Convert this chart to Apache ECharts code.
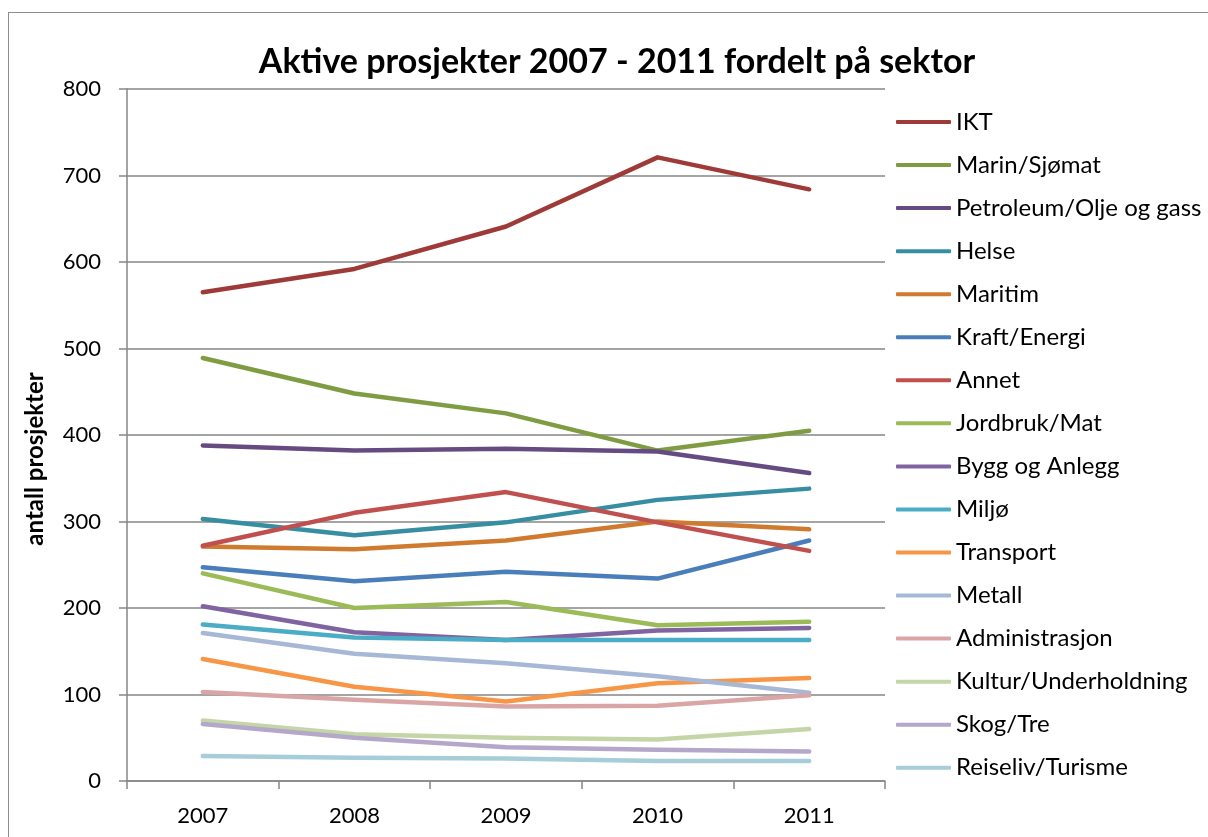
<!DOCTYPE html>
<html>
<head>
<meta charset="utf-8">
<script src="https://cdn.jsdelivr.net/npm/echarts@6/dist/echarts.min.js"></script>
<style>
  html, body { margin: 0; padding: 0; background: #fff; }
  #frame { position: absolute; left: 8px; top: 12px; width: 1300px; height: 900px; border: 1.5px solid #8c8c8c; box-sizing: border-box; }
  #myChart { position: absolute; left: 0; top: 0; width: 1208px; height: 837px; }
</style>
</head>
<body>
<div id="frame"></div>
<div id="myChart"></div>
<script>
// år
var years = ['2007', '2008', '2009', '2010', '2011'];

// sektorer og verdier
var sectors = ['IKT', 'Marin/Sjømat', 'Petroleum/Olje og gass', 'Helse', 'Maritim', 'Kraft/Energi', 'Annet',
  'Jordbruk/Mat', 'Bygg og Anlegg', 'Miljø', 'Transport', 'Metall', 'Administrasjon',
  'Kultur/Underholdning', 'Skog/Tre', 'Reiseliv/Turisme'];

var ikt = [565, 592, 641, 721, 684];
var marin = [489, 448, 425, 382, 405];
var petroleum = [388, 382, 384, 381, 356];
var helse = [303, 284, 299, 325, 338];
var maritim = [271, 268, 278, 300, 291];
var kraft = [247, 231, 242, 234, 278];
var annet = [272, 310, 334, 299, 266];
var jordbruk = [240, 200, 207, 180, 184];
var bygg = [202, 172, 163, 174, 177];
var miljo = [181, 166, 163, 163, 163];
var transport = [141, 109, 92, 113, 119];
var metall = [171, 147, 136, 121, 102];
var administrasjon = [103, 94, 86, 87, 99];
var kultur = [70, 54, 50, 48, 60];
var skog = [66, 50, 39, 36, 34];
var reiseliv = [29, 27, 26, 23, 23];

var values = [ikt, marin, petroleum, helse, maritim, kraft, annet, jordbruk, bygg, miljo,
  transport, metall, administrasjon, kultur, skog, reiseliv];

var colors = ['#9e3b38', '#7f9c43', '#654b82', '#378ea2', '#d07a30', '#4a7ebb', '#c0504d', '#9bbb59',
  '#8064a2', '#4bacc6', '#f79646', '#a6b8d6', '#d9a6a5', '#c4d6a8', '#b4a7c9', '#a7cdd8'];

var font = 'Lato, sans-serif';

var myChart = echarts.init(document.getElementById('myChart'));

var series = sectors.map(function (name, i) {
  return {
    name: name,
    type: 'line',
    data: values[i],
    symbol: 'none',
    lineStyle: { width: 4.5, color: colors[i], cap: 'round', join: 'round' },
    itemStyle: { color: colors[i] }
  };
});

var option = {
  animation: false,
  color: colors,
  title: {
    text: 'Aktive prosjekter 2007 - 2011 fordelt på sektor',
    left: 612,
    textAlign: 'center',
    top: 40,
    textStyle: { fontFamily: font, fontSize: 34, fontWeight: 'bold', color: '#000' }
  },
  legend: {
    orient: 'vertical',
    left: 891,
    top: 105,
    icon: 'roundRect',
    itemWidth: 55,
    itemHeight: 4,
    itemGap: 19.05,
    textStyle: { fontFamily: font, fontSize: 24, lineHeight: 24, color: '#000' },
    data: sectors
  },
  grid: { left: 127, right: 323, top: 89, bottom: 56 },
  xAxis: {
    type: 'category',
    data: years,
    boundaryGap: true,
    axisLine: { lineStyle: { color: '#868686', width: 1.5 } },
    axisTick: { show: true, length: 8, lineStyle: { color: '#868686', width: 1.5 } },
    axisLabel: { fontFamily: font, fontSize: 22, color: '#000', margin: 24 }
  },
  yAxis: {
    type: 'value',
    min: 0,
    max: 800,
    interval: 100,
    name: 'antall prosjekter',
    nameLocation: 'middle',
    nameGap: 80,
    nameTextStyle: { fontFamily: font, fontSize: 24, fontWeight: 'bold', color: '#000', padding: [0, 48, 0, 0] },
    axisLine: { show: true, lineStyle: { color: '#868686', width: 1.5 } },
    axisTick: { show: true, length: 8, lineStyle: { color: '#868686', width: 1.5 } },
    axisLabel: { fontFamily: font, fontSize: 22, color: '#000', margin: 26 },
    splitLine: { lineStyle: { color: '#868686', width: 1.5 } }
  },
  series: series
};

myChart.setOption(option);
</script>
</body>
</html>
